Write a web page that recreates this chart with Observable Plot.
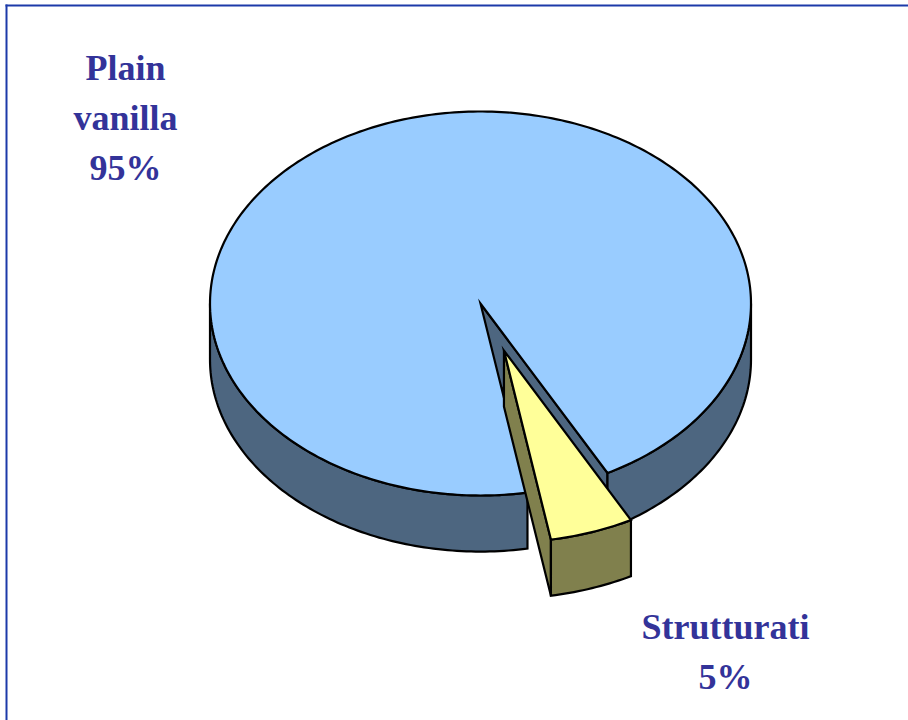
<!DOCTYPE html>
<html>
<head>
<meta charset="utf-8">
<script src="https://cdn.jsdelivr.net/npm/d3@7"></script>
<script src="https://cdn.jsdelivr.net/npm/@observablehq/plot@0.6"></script>
<style>
  html, body { margin: 0; padding: 0; background: #fff; overflow: hidden; }
  svg { display: block; }
</style>
</head>
<body>
<div id="chart"></div>
<script>
const categories = ["Plain vanilla", "Strutturati"];
const shares = [95, 5];
const labelLines = ["Plain\nvanilla\n95%", "Strutturati\n5%"];

const topColors = ["#99CCFF", "#FFFF99"];
const sideColors = ["#4D6680", "#80804D"];
const startDegrees = 170;
const depth = 0.292;                 // thickness, in radii of the vertical axis
const explode = [[0, 0], [0.0867, 0.245]];

const rad = d => d * Math.PI / 180;
const slices = d3.pie().sort(null).startAngle(rad(startDegrees)).endAngle(rad(startDegrees + 360))(shares);

const rim = (t, o, dy = 0) => ({ x: o[0] + Math.sin(t), y: o[1] - Math.cos(t) + dy });
function arc(a0, a1, o, dy = 0) {
  const n = Math.max(2, Math.ceil((a1 - a0) / rad(1)));
  return d3.range(n + 1).map(i => rim(a0 + (a1 - a0) * i / n, o, dy));
}
function visibleSpans(a0, a1) {
  const spans = [];
  for (let k = -1; k < 3; k++) {
    const lo = Math.max(a0, rad(90) + k * 2 * Math.PI);
    const hi = Math.min(a1, rad(270) + k * 2 * Math.PI);
    if (hi > lo) spans.push([lo, hi]);
  }
  return spans;
}

const polys = [];
slices.forEach((s, i) => {
  const o = explode[i];
  const centre = { x: o[0], y: o[1] };
  const centreLow = { x: o[0], y: o[1] + depth };
  polys.push({ fill: sideColors[i],
    pts: [centre, rim(s.endAngle, o), rim(s.endAngle, o, depth), centreLow] });
  visibleSpans(s.startAngle, s.endAngle).forEach(([a, b]) => {
    polys.push({ fill: sideColors[i],
      pts: [...arc(a, b, o), ...arc(a, b, o, depth).reverse()] });
  });
  polys.push({ fill: topColors[i],
    pts: [centre, ...arc(s.startAngle, s.endAngle, o)] });
});

const marks = polys.map(p => Plot.line(p.pts, {
  x: "x", y: "y", fill: p.fill, stroke: "#000", strokeWidth: 2.2,
  curve: "linear-closed", strokeLinejoin: "miter", strokeMiterlimit: 6
}));

const textStyle = {
  fontFamily: "'Liberation Serif', serif", fontWeight: "bold", fontSize: 36,
  fill: "#333399", lineHeight: 1.39, textAnchor: "middle", frameAnchor: "top-left",
  lineAnchor: "top"
};
const frameStyle = { stroke: "#1C3AA9", strokeWidth: 2, insetLeft: 6, insetTop: 5 };

const chart = Plot.plot({
  width: 908, height: 720, margin: 0,
  style: { background: "#fff", overflow: "visible" },
  x: { domain: [-1, 1], range: [209.5, 750.5], axis: null },
  y: { domain: [-1, 1], range: [111, 495], axis: null },
  marks: [
    Plot.frame({ anchor: "left", ...frameStyle }),
    Plot.frame({ anchor: "top", ...frameStyle }),
    ...marks,
    Plot.text([labelLines[0]], { ...textStyle, text: d => d, dx: 125, dy: 44 }),
    Plot.text([labelLines[1]], { ...textStyle, text: d => d, dx: 725, dy: 603 })
  ]
});
document.getElementById("chart").appendChild(chart);
</script>
</body>
</html>
